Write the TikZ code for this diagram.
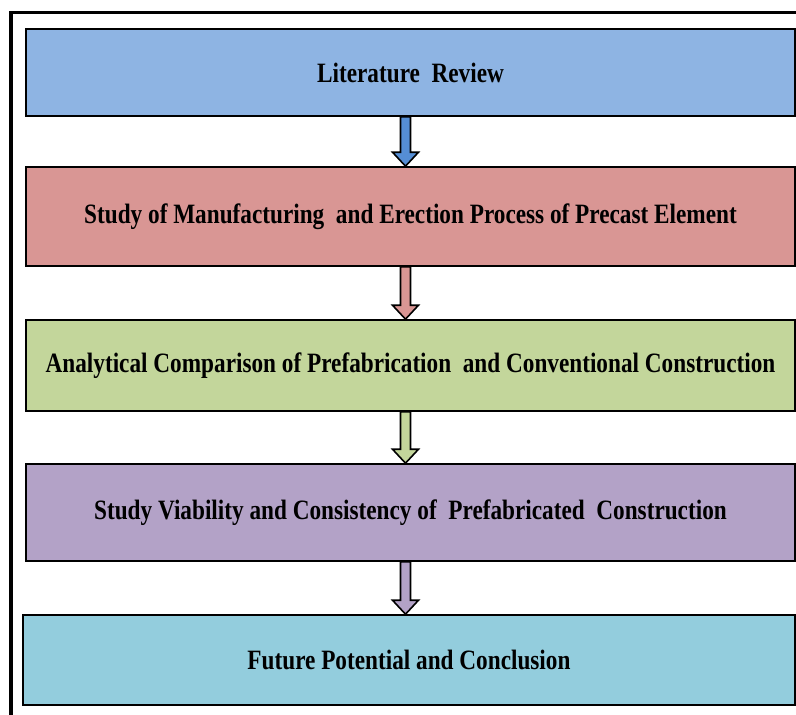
\documentclass[tikz,border=0pt]{standalone}
\usepackage{graphicx}
\usepackage{fontspec}
\setmainfont{Liberation Serif}
\usetikzlibrary{calc}

\definecolor{reviewfill}{HTML}{8EB4E3}
\definecolor{reviewarrow}{HTML}{558ED5}
\definecolor{studyfill}{HTML}{D99694}
\definecolor{comparefill}{HTML}{C3D69B}
\definecolor{viabfill}{HTML}{B3A2C7}
\definecolor{futurefill}{HTML}{93CDDD}

% narrow bold caption used in every stage box
\newcommand{\stagetext}[1]{\raisebox{-3pt}{\scalebox{0.83}[1]{\fontsize{28}{28}\selectfont\bfseries #1}}}

% block arrow from the bottom of one box to the top of the next
\newcommand{\blockarrow}[3]{%
  \draw[line width=1.6pt, fill=#3, line join=miter]
    ($(#1.south)+(-10,0)$) -- ($(#2.north -| #1.south)+(-10,-14)$)
    -- ($(#2.north -| #1.south)+(-18,-14)$) -- ($(#2.north -| #1.south)+(-5,0)$)
    -- ($(#2.north -| #1.south)+(8,-14)$) -- ($(#2.north -| #1.south)+(0,-14)$)
    -- (#1.south) -- cycle;}

\tikzset{
  stagebox/.style={draw=black, line width=1.6pt, minimum width=769pt,
    inner sep=0pt, anchor=center}
}

\begin{document}
\begin{tikzpicture}[x=1pt, y=-1pt]
\useasboundingbox (0,0) rectangle (796,715);

% outer frame
\draw[line width=3.5pt] (11,760) -- (11,12.5) -- (840,12.5);

% stages
\node[stagebox, fill=reviewfill, minimum height=87pt] (review) at (410.5,72.5)
  {\stagetext{Literature\ \ Review}};
\node[stagebox, fill=studyfill, minimum height=99pt] (study) at (410.5,216.5)
  {\stagetext{Study of Manufacturing\ \ and Erection Process of Precast Element}};
\node[stagebox, fill=comparefill, minimum height=91pt] (compare) at (410.5,365.5)
  {\stagetext{Analytical Comparison of Prefabrication\ \ and Conventional Construction}};
\node[stagebox, fill=viabfill, minimum height=97pt] (viab) at (410.5,512.5)
  {\stagetext{Study Viability and Consistency of\ \ Prefabricated\ \ Construction}};
\node[stagebox, fill=futurefill, minimum height=90pt, minimum width=772pt] (future) at (409,660)
  {\stagetext{Future Potential and Conclusion}};

% arrows between stages
\blockarrow{review}{study}{reviewarrow}
\blockarrow{study}{compare}{studyfill}
\blockarrow{compare}{viab}{comparefill}
\blockarrow{viab}{future}{viabfill}
\end{tikzpicture}
\end{document}
